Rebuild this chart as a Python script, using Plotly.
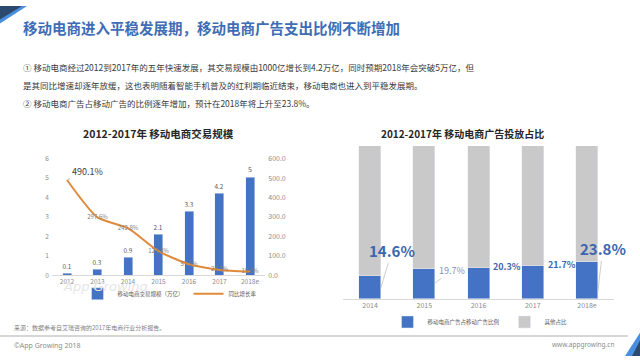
import plotly.graph_objects as go

# ---------------- data ----------------
years_l = ["2012", "2013", "2014", "2015", "2016", "2017", "2018e"]
gmv = [0.1, 0.3, 0.9, 2.1, 3.3, 4.2, 5]            # 移动电商交易规模（万亿）
growth = [490.1, 297.6, 242.8, 123.8, 57.1, 27.3, 19.0]  # 同比增长率 %
years_r = ["2014", "2015", "2016", "2017", "2018e"]
share = [14.6, 19.7, 20.3, 21.7, 23.8]             # 移动电商广告占移动广告比例 %
other = [round(100 - s, 1) for s in share]         # 其他占比 %
left_ticks = [0, 1, 2, 3, 4, 5, 6]
right_ticks = [0, 100, 200, 300, 400, 500, 600]

W, H = 640, 360
FONT = "Noto Sans CJK SC, Noto Sans, sans-serif"
BLUE = "#4472C4"
ORANGE = "#E08A3C"
GRAY_BAR = "#C9C9C9"


def px(x):
    return x / W


def py(y):
    return 1 - y / H


fig = go.Figure()

# ---- left chart ----
fig.add_trace(go.Bar(
    x=years_l, y=gmv, xaxis="x", yaxis="y", name="移动电商交易规模（万亿）",
    marker_color=BLUE, width=0.3,
    text=[f"{v:g}" for v in gmv], textposition="outside",
    textfont=dict(size=7, color="#595959", family=FONT),
    cliponaxis=False, legend="legend",
))
fig.add_trace(go.Scatter(
    x=years_l, y=growth, xaxis="x", yaxis="y2", name="同比增长率",
    mode="lines+text", line=dict(color=ORANGE, width=2, shape="spline", smoothing=0.6),
    text=[""] + [f"{v:.1f}%" for v in growth[1:]], textposition="middle center",
    textfont=dict(size=6, color="#7f7f7f", family=FONT),
    cliponaxis=False, legend="legend",
))

# ---- right chart ----
fig.add_trace(go.Bar(
    x=years_r, y=share, xaxis="x2", yaxis="y3", name="移动电商广告占移动广告比例",
    marker_color=BLUE, width=0.405, legend="legend2",
))
fig.add_trace(go.Bar(
    x=years_r, y=other, xaxis="x2", yaxis="y3", name="其他占比",
    marker_color=GRAY_BAR, width=0.405, legend="legend2",
))

tickfont = dict(size=6.5, color="#8c8c8c", family=FONT)

fig.update_layout(
    width=W, height=H, autosize=False,
    margin=dict(l=0, r=0, t=0, b=0),
    paper_bgcolor="white", plot_bgcolor="rgba(0,0,0,0)",
    barmode="stack", bargap=0,
    font=dict(family=FONT),
    xaxis=dict(domain=[px(51.75), px(265.25)], type="category", range=[-0.5, 6.5],
               showline=True, linecolor="#d9d9d9", linewidth=1, ticks="",
               tickfont=tickfont, anchor="y", showgrid=False),
    yaxis=dict(domain=[py(277), py(157)], range=[0, 6], tickvals=left_ticks,
               showgrid=False, zeroline=False, tickfont=tickfont, anchor="x",
               ticklabelstandoff=2),
    yaxis2=dict(overlaying="y", side="right", range=[0, 600], tickvals=right_ticks,
                ticksuffix="%", tickformat=".1f", showgrid=False, zeroline=False,
                tickfont=dict(size=7, color="#8c8c8c", family=FONT), anchor="x",
                ticklabelstandoff=2),
    xaxis2=dict(domain=[px(342.9), px(614.1)], type="category", range=[-0.5, 4.5],
                showline=True, linecolor="#d9d9d9", linewidth=1, ticks="",
                tickfont=dict(size=7, color="#8c8c8c", family=FONT), anchor="y3",
                showgrid=False),
    yaxis3=dict(domain=[py(301), py(144)], range=[0, 100], visible=False, anchor="x2"),
    legend=dict(orientation="h", x=px(170), y=py(296), xanchor="center", yanchor="middle",
                font=dict(size=5.5, color="#595959", family=FONT), bgcolor="rgba(0,0,0,0)",
                itemwidth=30, traceorder="normal"),
    legend2=dict(orientation="h", x=px(480), y=py(325), xanchor="center", yanchor="middle",
                 font=dict(size=5.5, color="#595959", family=FONT), bgcolor="rgba(0,0,0,0)",
                 itemwidth=30, traceorder="normal"),
    showlegend=True,
)

ann = []
# header title
ann.append(dict(text="<b>移动电商进入平稳发展期，移动电商广告支出比例不断增加</b>",
                x=px(21), y=py(22), xref="paper", yref="paper", xanchor="left", yanchor="middle",
                showarrow=False, font=dict(size=14.5, color="#3E6DB5", family=FONT)))
body = [
    "① 移动电商经过2012到2017年的五年快速发展，其交易规模由1000亿增长到4.2万亿，同时预期2018年会突破5万亿，但",
    "是其同比增速却逐年放缓，这也表明随着智能手机普及的红利期临近结束，移动电商也进入到平稳发展期。",
    "② 移动电商广告占移动广告的比例逐年增加，预计在2018年将上升至23.8%。",
]
for i, line in enumerate(body):
    ann.append(dict(text=line, x=px(21), y=py(63 + 18.5 * i), xref="paper", yref="paper",
                    xanchor="left", yanchor="middle", showarrow=False,
                    font=dict(size=8.5, color="#3a3a3a", family=FONT)))
# chart titles
ann.append(dict(text="<b>2012-2017年 移动电商交易规模</b>", x=px(158), y=py(131), xref="paper",
                yref="paper", xanchor="center", yanchor="middle", showarrow=False,
                font=dict(size=10.5, color="#262626", family=FONT)))
ann.append(dict(text="<b>2012-2017年 移动电商广告投放占比</b>", x=px(462), y=py(131), xref="paper",
                yref="paper", xanchor="center", yanchor="middle", showarrow=False,
                font=dict(size=10, color="#262626", family=FONT)))
# 490.1% callout
ann.append(dict(text=f"{growth[0]:.1f}%", x=0, y=growth[0], xref="x", yref="y2",
                showarrow=True, arrowhead=0, arrowwidth=0.8, arrowcolor="#a6a6a6",
                ax=20, ay=-9, axref="pixel", ayref="pixel", standoff=1,
                font=dict(size=9, color="#404040", family=FONT)))
# watermark
ann.append(dict(text="App Growing", x=px(61), y=py(289), xref="paper", yref="paper",
                xanchor="left", yanchor="middle", showarrow=False,
                font=dict(size=13, color="#e6e6e6", family="DejaVu Sans", style="italic")))

# right chart labels
big = dict(size=15, color="#3D66AE", family=FONT)
mid = dict(size=9, color="#3D66AE", family=FONT)
light = dict(size=9, color="#7C93BA", family=FONT)
label_cfg = [
    dict(frac=0.48, ax=11, ay=-37, font=big, bold=True, arrow=True),
    dict(frac=0.52, ax=17, ay=-13, font=light, bold=False, arrow=True),
    dict(frac=1.0, ax=0, ay=0, font=mid, bold=True, arrow=False),
    dict(frac=1.0, ax=0, ay=0, font=mid, bold=True, arrow=False),
    dict(frac=0.19, ax=5, ay=-43, font=big, bold=True, arrow=True),
]
for i, (v, c) in enumerate(zip(share, label_cfg)):
    t = f"{v:.1f}%"
    if c["bold"]:
        t = f"<b>{t}</b>"
    if c["arrow"]:
        ann.append(dict(text=t, x=i + 0.2, y=v * c["frac"], xref="x2", yref="y3",
                        showarrow=True, arrowhead=0, arrowwidth=0.8, arrowcolor="#bfbfbf",
                        ax=c["ax"], ay=c["ay"], standoff=0, font=c["font"]))
    else:
        ann.append(dict(text=t, x=i + 0.2, y=v, xref="x2", yref="y3", showarrow=False,
                        xanchor="left", yanchor="middle", xshift=2, yshift=1, font=c["font"]))

# footer
ann.append(dict(text="来源：数据参考自艾瑞咨询的2017年电商行业分析报告。", x=px(12), y=py(331),
                xref="paper", yref="paper", xanchor="left", yanchor="middle", showarrow=False,
                font=dict(size=6, color="#7f7f7f", family=FONT)))
ann.append(dict(text="©App Growing 2018", x=px(12), y=py(349), xref="paper", yref="paper",
                xanchor="left", yanchor="middle", showarrow=False,
                font=dict(size=7, color="#8c8c8c", family="Noto Sans")))
ann.append(dict(text="www.appgrowing.cn", x=px(617), y=py(348), xref="paper", yref="paper",
                xanchor="right", yanchor="middle", showarrow=False,
                font=dict(size=6.5, color="#8c8c8c", family="Noto Sans")))
fig.update_layout(annotations=ann)


def poly(pts):
    return "M " + " L ".join(f"{px(x):.4f},{py(y):.4f}" for x, y in pts) + " Z"


shapes = [
    dict(type="path", path=poly([(0, 0), (27, 0), (0, 18)]), xref="paper", yref="paper",
         fillcolor="#4A8FDF", line=dict(width=0)),
    dict(type="path", path=poly([(0, 0), (22, 0), (0, 14)]), xref="paper", yref="paper",
         fillcolor="#2C4A6E", line=dict(width=0)),
    dict(type="path", path=poly([(625, 360), (640, 336), (640, 360)]), xref="paper", yref="paper",
         fillcolor="#4A8FDF", line=dict(width=0)),
    dict(type="path", path=poly([(632, 360), (640, 344), (640, 360)]), xref="paper", yref="paper",
         fillcolor="#2C4A6E", line=dict(width=0)),
    dict(type="line", x0=0, x1=px(628), y0=py(339.5), y1=py(339.5), xref="paper", yref="paper",
         line=dict(color="#c8c8c8", width=1.5)),
]
fig.update_layout(shapes=shapes)

fig.write_html("out.html", config={"displayModeBar": False},
               post_script="document.body.style.margin='0';document.body.style.overflow='hidden';")
